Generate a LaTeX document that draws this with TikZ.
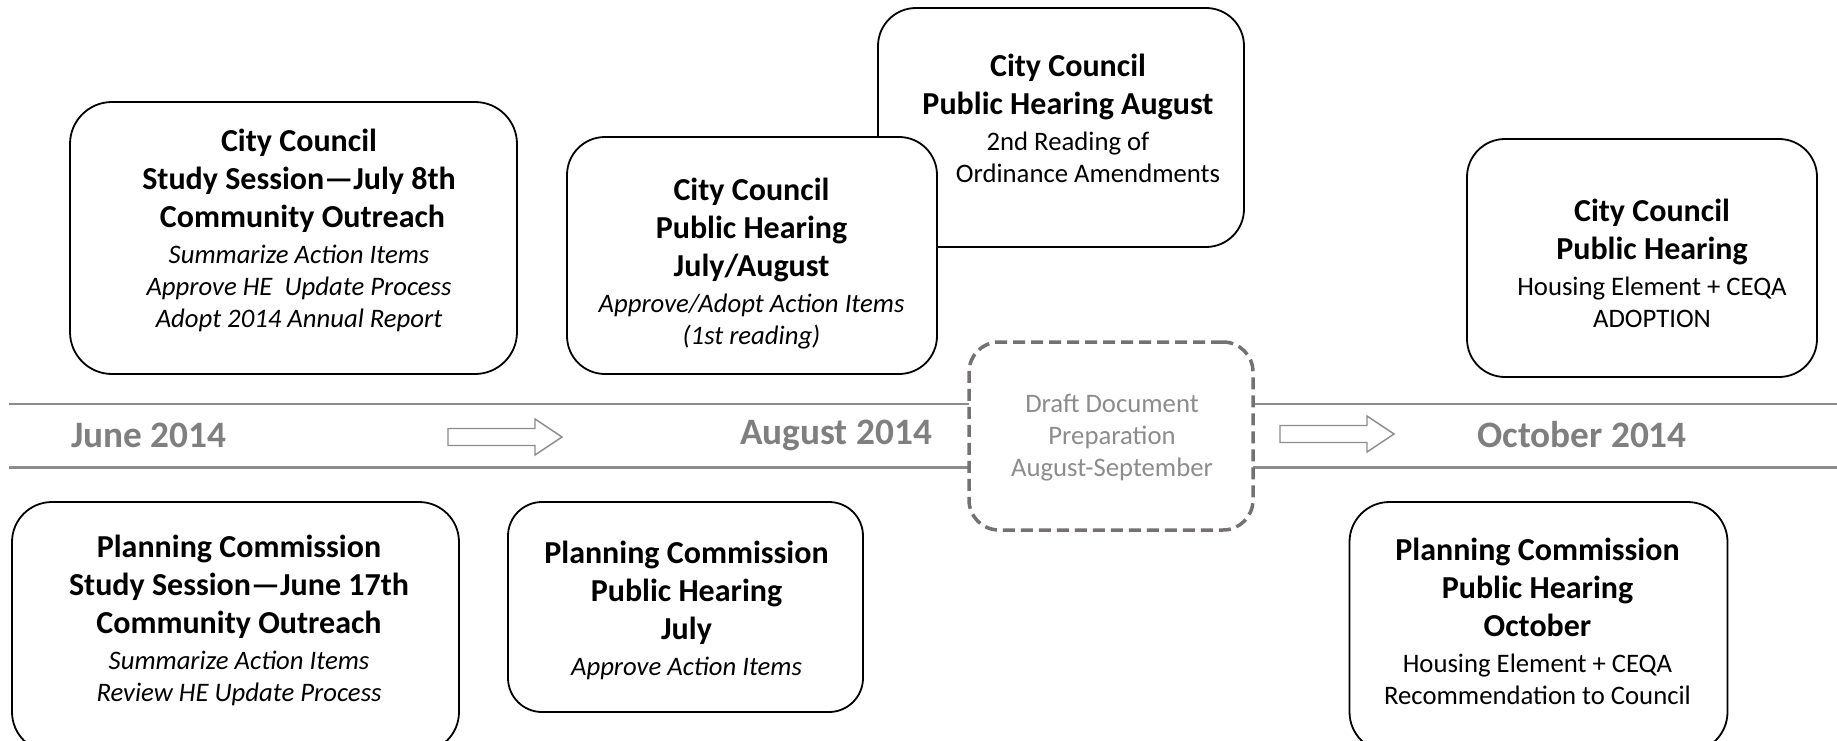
\documentclass[tikz,border=0pt]{standalone}
\usepackage{fontspec}
\setmainfont{Carlito}
\definecolor{cLine}{RGB}{140,140,140}
\definecolor{cMonth}{RGB}{127,127,127}
\definecolor{cDash}{RGB}{118,113,113}
\definecolor{cDraft}{RGB}{140,140,140}
\newcommand{\evhead}[1]{{\fontsize{32}{38}\selectfont\bfseries #1}}
\newcommand{\evnote}[1]{{\itshape #1}}
\tikzset{
	event/.style     ={rectangle, rounded corners=38pt, draw=black, line width=1.8pt, fill=white, inner sep=0pt},
	evtext/.style    ={align=center, inner sep=0pt, font=\fontsize{26.7}{32}\selectfont},
	month/.style     ={font=\fontsize{37.3}{44}\selectfont\bfseries, text=cMonth, inner sep=0pt},
	draftbox/.style  ={rectangle, rounded corners=30pt, draw=cDash, line width=3.5pt, dash pattern=on 12pt off 6pt, fill=white, inner sep=0pt},
	blockarrow/.style={draw=cLine, line width=1.4pt, fill=white, line join=miter},
	timeline/.style  ={draw=cLine, line width=2.4pt},
}

\begin{document}
\begin{tikzpicture}[x=1pt, y=-1pt]
	\useasboundingbox (0,0) rectangle (1837,741);
	% timeline band
	\draw[timeline] (9,404) -- (1837,404);
	\draw[timeline] (9,467.5) -- (1837,467.5);
	\node[draftbox, minimum width=284pt, minimum height=188pt] (draft) at (1111,436) {};
	\node[evtext, text=cDraft] (draftT) at (1112,438) {Draft Document\\Preparation\\August-September};
	% hollow arrows between the months
	\foreach \ax/\ay in {448/437,1280/434}
		\draw[blockarrow] (\ax,{\ay-8.5}) -- ++(87,0) -- ++(0,-9.5) -- ++(27,18) -- ++(-27,18) -- ++(0,-9.5) -- ++(-87,0) -- cycle;
	\node[month] (jun) at (149,435) {June 2014};
	\node[month] (aug) at (836,435) {August 2014};
	\node[month] (oct) at (1582,435) {October 2014};
	% city council (above the band)
	\node[event, rounded corners=42pt, minimum width=447pt, minimum height=272pt] (ccStudy) at (293.5,238) {};
	\node[evtext] (ccStudyT) at (299,230) {\evhead{City Council}\\[6pt]
		\evhead{Study Session---July 8th}\\[6pt]
		\evhead{\hspace*{7pt}Community Outreach}\\[4pt]
		\evnote{Summarize Action Items}\\
		\evnote{Approve HE\ \ Update Process}\\
		\evnote{Adopt 2014 Annual Report}};
	\node[event, minimum width=366pt, minimum height=239pt] (ccHearB) at (1061,127.5) {};
	\node[evtext] (ccHearBT) at (1068,118.5) {\evhead{City Council}\\[6pt]
		\evhead{Public Hearing August}\\[4pt]
		2nd Reading of\\
		\hspace*{40pt}Ordinance Amendments};
	\node[event, minimum width=370pt, minimum height=237pt] (ccHearA) at (752,255.5) {};
	\node[evtext] (ccHearAT) at (751.5,263.5) {\evhead{City Council}\\[6pt]
		\evhead{Public Hearing}\\[6pt]
		\evhead{July/August}\\[4pt]
		\evnote{Approve/Adopt Action Items}\\
		\evnote{(1st reading)}};
	\node[event, minimum width=350pt, minimum height=238pt] (ccAdopt) at (1642,258) {};
	\node[evtext] (ccAdoptT) at (1652,263.5) {\evhead{City Council}\\[6pt]
		\evhead{Public Hearing}\\[4pt]
		Housing Element + CEQA\\
		ADOPTION};
	% planning commission (below the band)
	\node[event, rounded corners=40pt, minimum width=447pt, minimum height=250pt] (pcStudy) at (235.5,627) {};
	\node[evtext] (pcStudyT) at (239,620) {\evhead{Planning Commission}\\[6pt]
		\evhead{Study Session---June 17th}\\[6pt]
		\evhead{Community Outreach}\\[4pt]
		\evnote{Summarize Action Items}\\
		\evnote{Review HE Update Process}};
	\node[event, rounded corners=34pt, minimum width=355pt, minimum height=210pt] (pcHearJ) at (685.5,607) {};
	\node[evtext] (pcHearJT) at (686.5,610.5) {\evhead{Planning Commission}\\[6pt]
		\evhead{Public Hearing}\\[6pt]
		\evhead{July}\\[4pt]
		\evnote{Approve Action Items}};
	\node[event, rounded corners=40pt, minimum width=378pt, minimum height=250pt] (pcHearO) at (1538.5,627) {};
	\node[evtext] (pcHearOT) at (1537.5,621.5) {\evhead{Planning Commission}\\[6pt]
		\evhead{Public Hearing}\\[6pt]
		\evhead{October}\\[4pt]
		Housing Element + CEQA\\
		Recommendation to Council};
\end{tikzpicture}
\end{document}
